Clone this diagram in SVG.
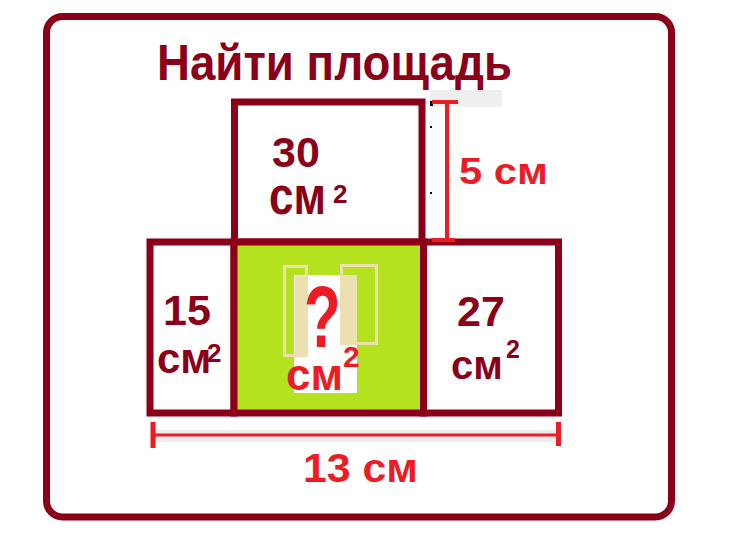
<svg xmlns="http://www.w3.org/2000/svg" width="748" height="536" viewBox="0 0 748 536">
<style>
.box{fill:#fff;stroke:#8B0018;stroke-width:7}
.dk{font-family:"Liberation Sans",Arial,sans-serif;font-weight:bold;fill:#8B0018}
.rd{font-family:"Liberation Sans",Arial,sans-serif;font-weight:bold;fill:#EC1C24}
.dim{stroke:#EC1C24;fill:none}
.beige{fill:none;stroke:#EDE0B0;stroke-width:3}
.bar{fill:#EDE0B0}
</style>
<rect width="748" height="536" fill="#fff"/>
<g id="frame">
<rect x="46.5" y="16.5" width="625" height="500.5" rx="16" fill="#fff" stroke="#8B0018" stroke-width="7"/>
<text class="dk" x="157" y="80" font-size="50" textLength="355" lengthAdjust="spacingAndGlyphs">Найти площадь</text>
</g>
<g id="artifacts">
<rect x="430" y="90" width="72" height="17" fill="#efefef"/>
<rect x="430" y="101" width="3" height="5" fill="#000"/>
<rect x="430" y="126" width="2" height="2" fill="#000"/>
<rect x="430" y="192" width="2" height="2" fill="#000"/>
<rect x="153" y="430" width="405" height="12" fill="#ececec"/>
</g>
<g id="node-top">
<rect class="box" x="234.5" y="102" width="187.5" height="140"/>
<text class="dk" x="272" y="167" font-size="43">30</text>
<text class="dk" transform="translate(269,214) scale(1,1.17)" font-size="44">см</text>
<text class="dk" x="333" y="203" font-size="26">2</text>
</g>
<g id="node-left">
<rect class="box" x="150" y="242" width="84" height="171"/>
<text class="dk" x="163" y="325" font-size="43">15</text>
<text class="dk" x="157" y="373" font-size="42">см</text>
<text class="dk" x="207" y="362" font-size="26">2</text>
</g>
<g id="node-center">
<rect x="234" y="242" width="189.5" height="171" fill="#B5E21E" stroke="#8B0018" stroke-width="7"/>
<rect x="294" y="275" width="63" height="118" fill="#fff"/>
<rect class="beige" x="284.5" y="266.5" width="22" height="89"/>
<rect class="bar" x="295" y="276" width="12" height="79"/>
<rect class="beige" x="341.5" y="265.5" width="35" height="78"/>
<rect class="bar" x="341" y="275" width="16" height="68"/>
<text class="rd" transform="translate(304,347) scale(1,1.45)" font-size="60">?</text>
<text class="rd" x="286" y="390" font-size="44">см</text>
<text class="rd" x="343" y="367" font-size="30">2</text>
</g>
<g id="node-right">
<rect class="box" x="423.5" y="242" width="135" height="171"/>
<text class="dk" x="457" y="326" font-size="43">27</text>
<text class="dk" x="451" y="379" font-size="40">см</text>
<text class="dk" x="506" y="358" font-size="25">2</text>
</g>
<g id="connectors">
<line class="dim" x1="447" y1="102" x2="447" y2="240" stroke-width="4"/>
<line class="dim" x1="432" y1="102" x2="458" y2="102" stroke-width="4"/>
<line class="dim" x1="432" y1="240" x2="455" y2="240" stroke-width="4"/>
<line class="dim" x1="153" y1="435" x2="558" y2="435" stroke-width="3"/>
<line class="dim" x1="153" y1="422" x2="153" y2="448" stroke-width="5"/>
<line class="dim" x1="558.5" y1="422" x2="558.5" y2="446" stroke-width="5"/>
<text class="rd" x="459" y="184" font-size="36" textLength="89" lengthAdjust="spacingAndGlyphs">5 см</text>
<text class="rd" x="303" y="482" font-size="40" textLength="115" lengthAdjust="spacingAndGlyphs">13 см</text>
</g>
</svg>
